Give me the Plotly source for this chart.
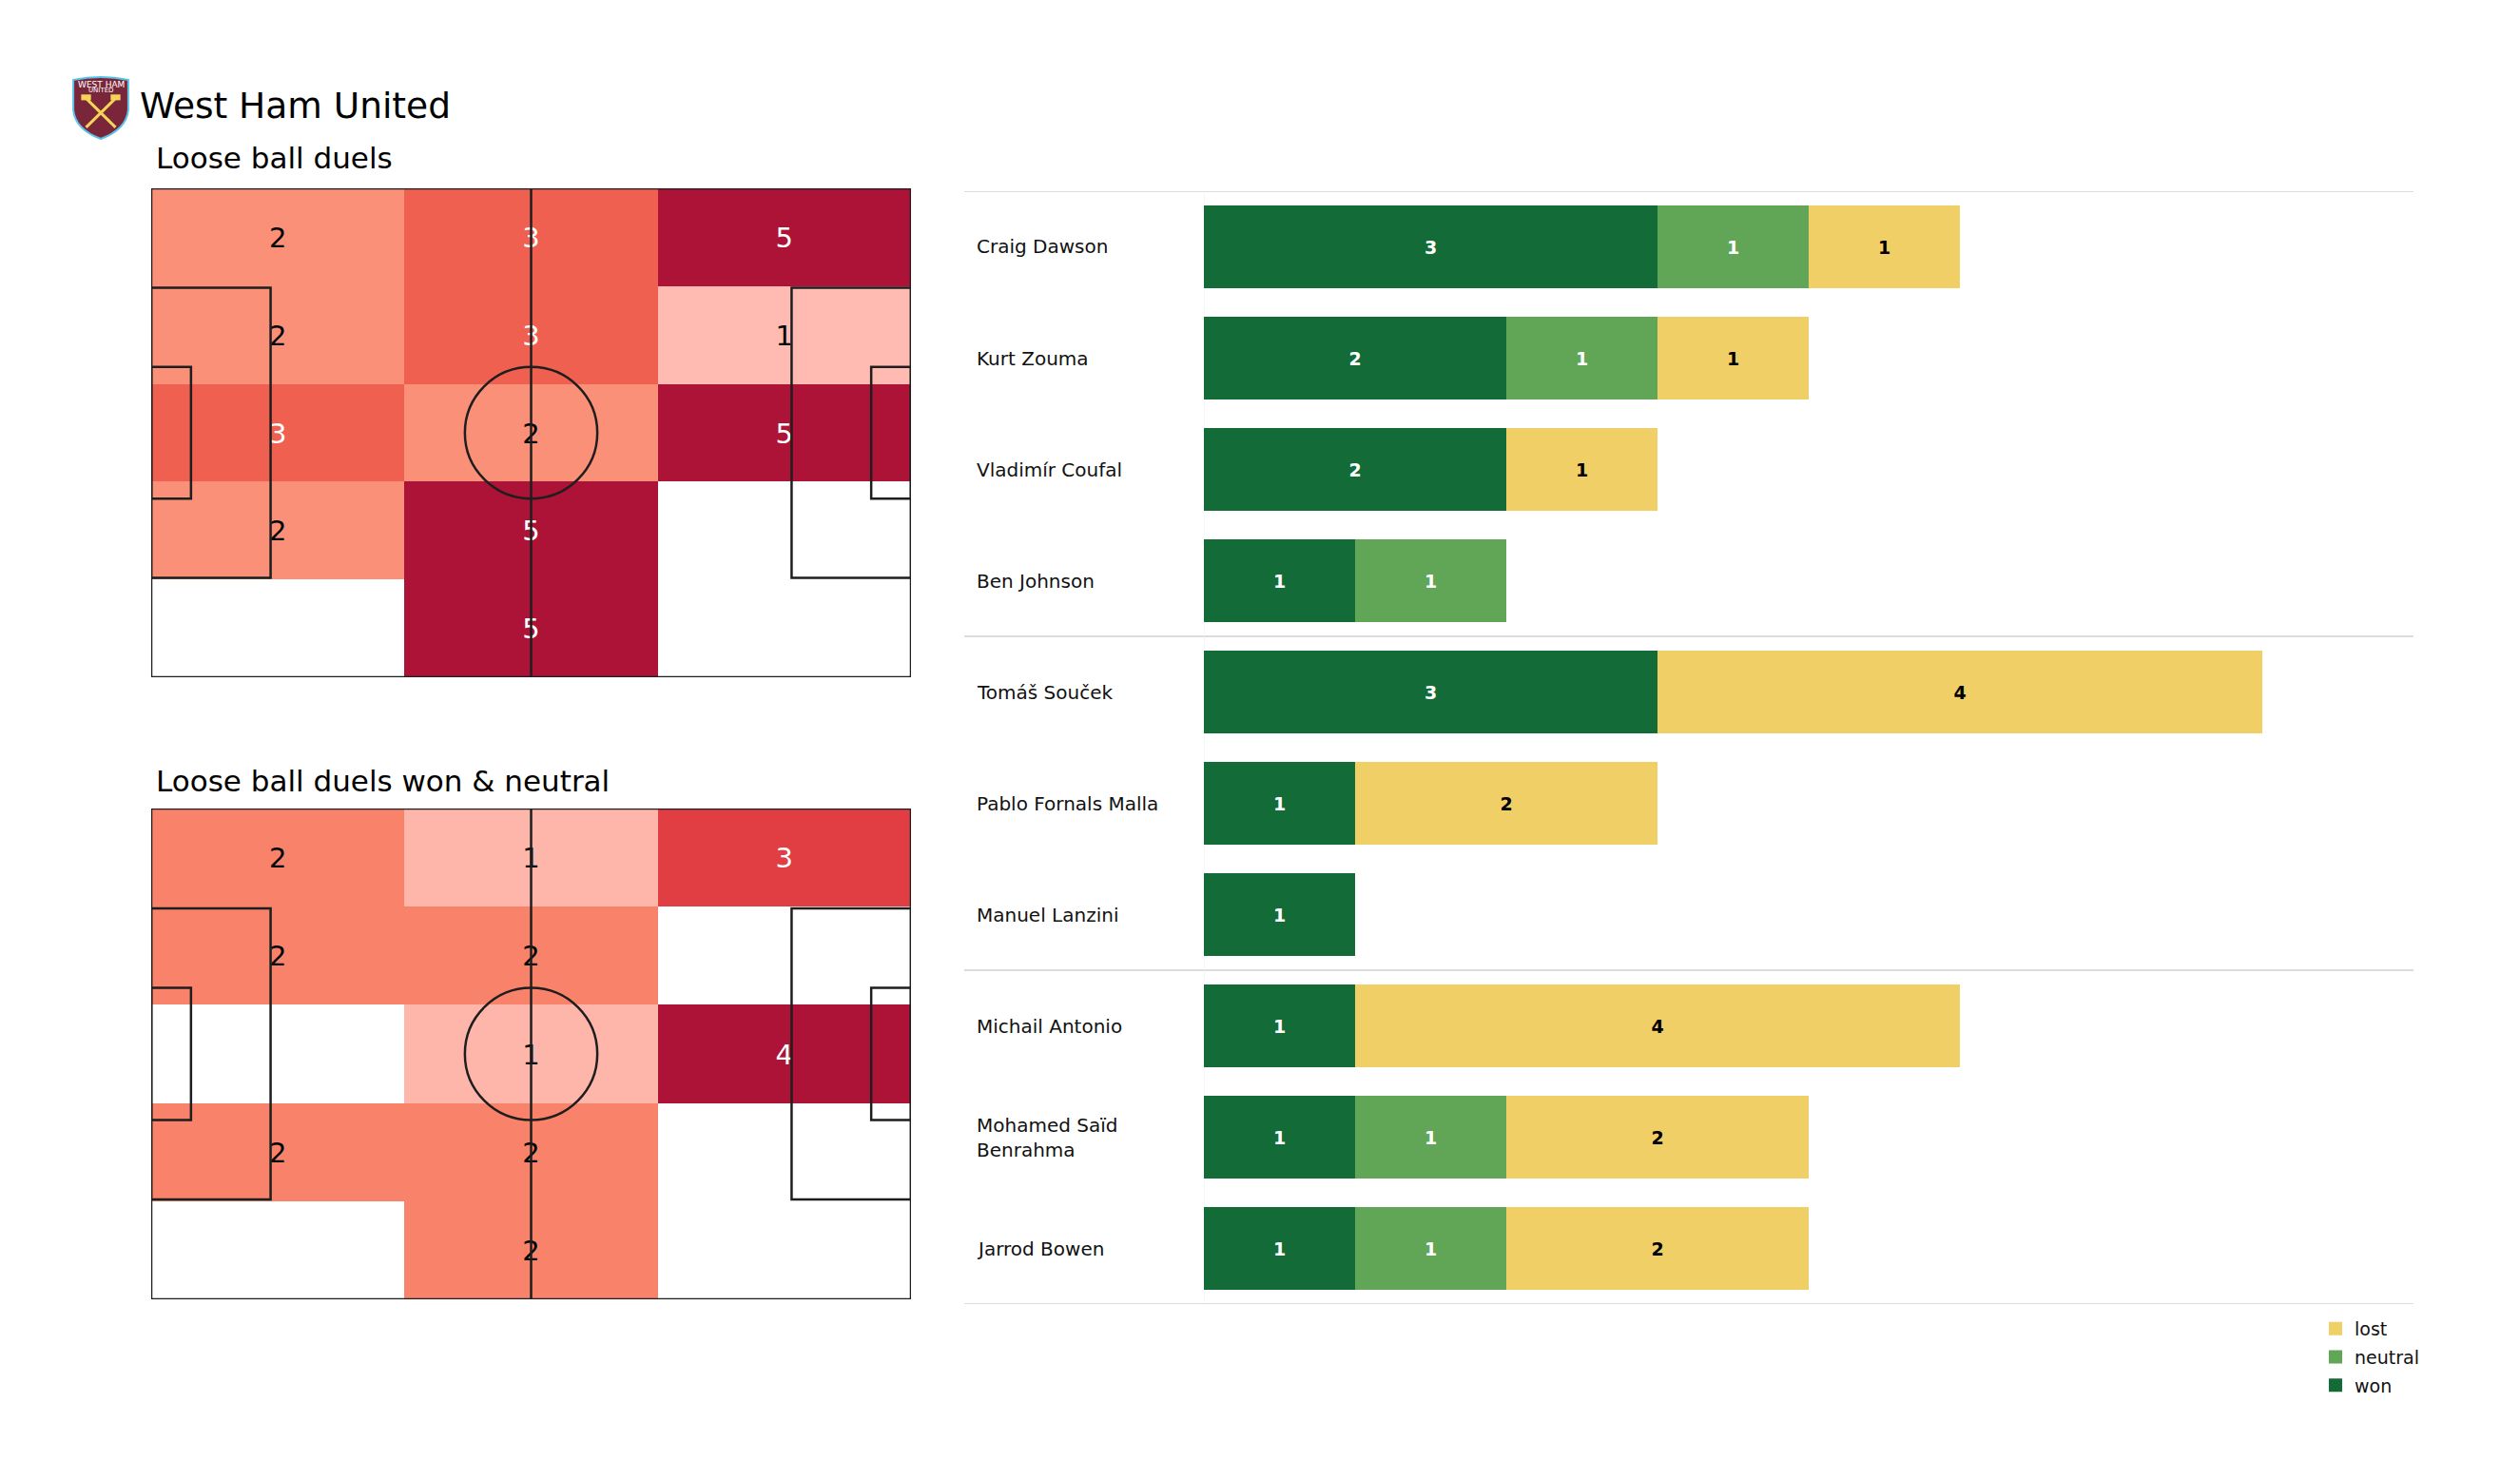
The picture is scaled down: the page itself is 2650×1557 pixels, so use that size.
import plotly.graph_objects as go

# ---------------- data ----------------
TEAM = "West Ham United"
TITLE_1 = "Loose ball duels"
TITLE_2 = "Loose ball duels won & neutral"

# pitch zones (3 columns along the length, 5 rows across the width), rows listed top -> bottom
zone_x_centers = [17.5, 52.5, 87.5]
zone_y_centers = [6.8, 20.4, 34.0, 47.6, 61.2]

duels_all = [
    [2, 3, 5],
    [2, 3, 1],
    [3, 2, 5],
    [2, 5, 0],
    [0, 5, 0],
]
duels_won_neutral = [
    [2, 1, 3],
    [2, 2, 0],
    [0, 1, 4],
    [2, 2, 0],
    [0, 2, 0],
]

players = [
    "Craig Dawson", "Kurt Zouma", "Vladimír Coufal", "Ben Johnson",
    "Tomáš Souček", "Pablo Fornals Malla", "Manuel Lanzini",
    "Michail Antonio", "Mohamed Saïd<br>Benrahma", "Jarrod Bowen",
]
won =     [3, 2, 2, 1, 3, 1, 1, 1, 1, 1]
neutral = [1, 1, 0, 1, 0, 0, 0, 0, 1, 1]
lost =    [1, 1, 1, 0, 4, 2, 0, 4, 2, 2]
group_breaks = [-0.5, 3.5, 6.5, 9.5]

# ---------------- styles ----------------
W, H = 2650, 1557
OFF = 8  # page body margin
FONT = "DejaVu Sans"
C_WON, C_NEUTRAL, C_LOST = "#136B37", "#61A656", "#F0CF67"
HEAT_SCALE = [
    [0.0, "#ffffff"], [0.2, "#FFBBB1"], [0.25, "#FEB6AA"], [0.4, "#FA9078"],
    [0.5, "#F9836A"], [0.6, "#EF6050"], [0.75, "#E03E43"], [1.0, "#AD1237"],
]
LINE = "#1e1e1e"
TEXT_DY = 0.45  # small downward nudge of the zone labels


def px(x):
    return (x - OFF) / W


def py(y):
    return 1 - (y - OFF) / H


fig = go.Figure()


def add_pitch(z, xa, ya):
    zmax = max(max(r) for r in z)
    fig.add_trace(go.Heatmap(
        x=zone_x_centers, y=zone_y_centers, z=z, zmin=0, zmax=zmax,
        colorscale=HEAT_SCALE, showscale=False, hoverinfo="skip",
        xaxis=xa, yaxis=ya,
    ))
    tx, ty, tt, tc = [], [], [], []
    for ri, row in enumerate(z):
        for ci, v in enumerate(row):
            if v:
                tx.append(zone_x_centers[ci])
                ty.append(zone_y_centers[ri] + TEXT_DY)
                tt.append(str(v))
                tc.append("white" if v / zmax > 0.5 else "black")
    fig.add_trace(go.Scatter(
        x=tx, y=ty, text=tt, mode="text", textposition="middle center",
        textfont=dict(family=FONT, size=29, color=tc),
        hoverinfo="skip", showlegend=False, xaxis=xa, yaxis=ya,
    ))
    L, Wd = 105, 68
    shp = dict(xref=xa, yref=ya, line=dict(color=LINE, width=2.5), layer="above")
    fig.add_shape(type="rect", x0=0, y0=0, x1=L, y1=Wd, **shp)
    fig.add_shape(type="line", x0=L / 2, y0=0, x1=L / 2, y1=Wd, **shp)
    fig.add_shape(type="circle", x0=L / 2 - 9.15, x1=L / 2 + 9.15,
                  y0=Wd / 2 - 9.15, y1=Wd / 2 + 9.15, **shp)
    pb = (Wd - 40.32) / 2
    sb = (Wd - 18.32) / 2
    fig.add_shape(type="rect", x0=0, x1=16.5, y0=pb, y1=Wd - pb, **shp)
    fig.add_shape(type="rect", x0=0, x1=5.5, y0=sb, y1=Wd - sb, **shp)
    fig.add_shape(type="rect", x0=L - 16.5, x1=L, y0=pb, y1=Wd - pb, **shp)
    fig.add_shape(type="rect", x0=L - 5.5, x1=L, y0=sb, y1=Wd - sb, **shp)


add_pitch(duels_all, "x", "y")
add_pitch(duels_won_neutral, "x2", "y2")

# ---------------- bars ----------------
for name, vals, col, tcol in [("won", won, C_WON, "white"),
                              ("neutral", neutral, C_NEUTRAL, "white"),
                              ("lost", lost, C_LOST, "black")]:
    fig.add_trace(go.Bar(
        y=players, x=vals, orientation="h", name=name, width=0.74,
        marker=dict(color=col, line=dict(width=0)),
        text=[str(v) if v else "" for v in vals],
        textposition="inside", insidetextanchor="middle", textangle=0,
        constraintext="none",
        textfont=dict(family=FONT, size=19, color=tcol, weight="bold"),
        xaxis="x3", yaxis="y3", showlegend=False, hoverinfo="skip",
    ))

# legend-only square markers (top -> bottom: lost, neutral, won)
for name, col in [("lost", C_LOST), ("neutral", C_NEUTRAL), ("won", C_WON)]:
    fig.add_trace(go.Scatter(
        x=[None], y=[None], mode="markers", name=name, legendgroup=name,
        marker=dict(symbol="square", size=16, color=col, line=dict(color=col, width=4)),
        xaxis="x3", yaxis="y3",
    ))

for i, p in enumerate(players):
    fig.add_annotation(
        x=px(1025), xref="paper", y=p, yref="y3", text=p, showarrow=False,
        xanchor="left", align="left",
        font=dict(family=FONT, size=20, color="#111111"),
    )

for b in group_breaks:
    fig.add_shape(type="line", xref="paper", yref="y3", x0=px(1014), x1=px(2538),
                  y0=b, y1=b, line=dict(color="#dcdcdc", width=2), layer="below")
fig.add_shape(type="line", xref="x3", yref="y3", x0=0, x1=0, y0=-0.5, y1=9.5,
              line=dict(color="#eeeeee", width=1), layer="below")

# ---------------- titles ----------------
fig.add_annotation(x=px(145), y=py(111), xref="paper", yref="paper", text=TEAM,
                   showarrow=False, xanchor="left", yanchor="middle",
                   font=dict(family=FONT, size=37.5, color="black"))
fig.add_annotation(x=px(162), y=py(166), xref="paper", yref="paper", text=TITLE_1,
                   showarrow=False, xanchor="left", yanchor="middle",
                   font=dict(family=FONT, size=31, color="black"))
fig.add_annotation(x=px(162), y=py(821), xref="paper", yref="paper", text=TITLE_2,
                   showarrow=False, xanchor="left", yanchor="middle",
                   font=dict(family=FONT, size=31, color="black"))

# ---------------- crest (decoration) ----------------
crest = dict(xref="x4", yref="y4", layer="above")
fig.add_shape(type="path", path="M2,5 Q30,-1 58,5 L58,36 Q56,56 30,66 Q4,56 2,36 Z",
              fillcolor="#7A263A", line=dict(color="#5BC2E7", width=2), **crest)
fig.add_shape(type="line", x0=15, y0=24, x1=45, y1=54, line=dict(color="#F3D459", width=3), **crest)
fig.add_shape(type="line", x0=45, y0=24, x1=15, y1=54, line=dict(color="#F3D459", width=3), **crest)
fig.add_shape(type="rect", x0=10, y0=20, x1=20, y1=26, fillcolor="#F3D459", line=dict(width=0), **crest)
fig.add_shape(type="rect", x0=40, y0=20, x1=50, y1=26, fillcolor="#F3D459", line=dict(width=0), **crest)
fig.add_annotation(x=30, y=10, xref="x4", yref="y4", text="WEST HAM", showarrow=False,
                   font=dict(family=FONT, size=9, color="white"))
fig.add_annotation(x=30, y=16, xref="x4", yref="y4", text="UNITED", showarrow=False,
                   font=dict(family=FONT, size=7, color="white"))

# ---------------- layout ----------------
hidden = dict(visible=False, showgrid=False, zeroline=False, fixedrange=True)
fig.update_layout(
    width=W, height=H, margin=dict(l=0, r=0, t=0, b=0),
    paper_bgcolor="white", plot_bgcolor="white",
    barmode="stack", bargap=0.26,
    xaxis=dict(domain=[px(159), px(958)], range=[0, 105], **hidden),
    yaxis=dict(domain=[py(712), py(198)], range=[68, 0], **hidden),
    xaxis2=dict(domain=[px(159), px(958)], range=[0, 105], anchor="y2", **hidden),
    yaxis2=dict(domain=[py(1366), py(850)], range=[68, 0], anchor="x2", **hidden),
    xaxis3=dict(domain=[px(1266), px(2538)], range=[0, 8], anchor="y3", **hidden),
    yaxis3=dict(domain=[py(1371), py(201)], range=[9.5, -0.5], anchor="x3",
                type="category", categoryorder="array", categoryarray=players, **hidden),
    xaxis4=dict(domain=[px(74), px(138)], range=[-1, 61], anchor="y4", **hidden),
    yaxis4=dict(domain=[py(147), py(78)], range=[67, -1], anchor="x4", **hidden),
    legend=dict(x=px(2436), y=py(1378), xanchor="left", yanchor="top",
                traceorder="grouped", tracegroupgap=2,
                font=dict(family=FONT, size=19, color="#111111"),
                bgcolor="rgba(0,0,0,0)", itemsizing="constant"),
    showlegend=True,
)

fig.write_html("out.html")
